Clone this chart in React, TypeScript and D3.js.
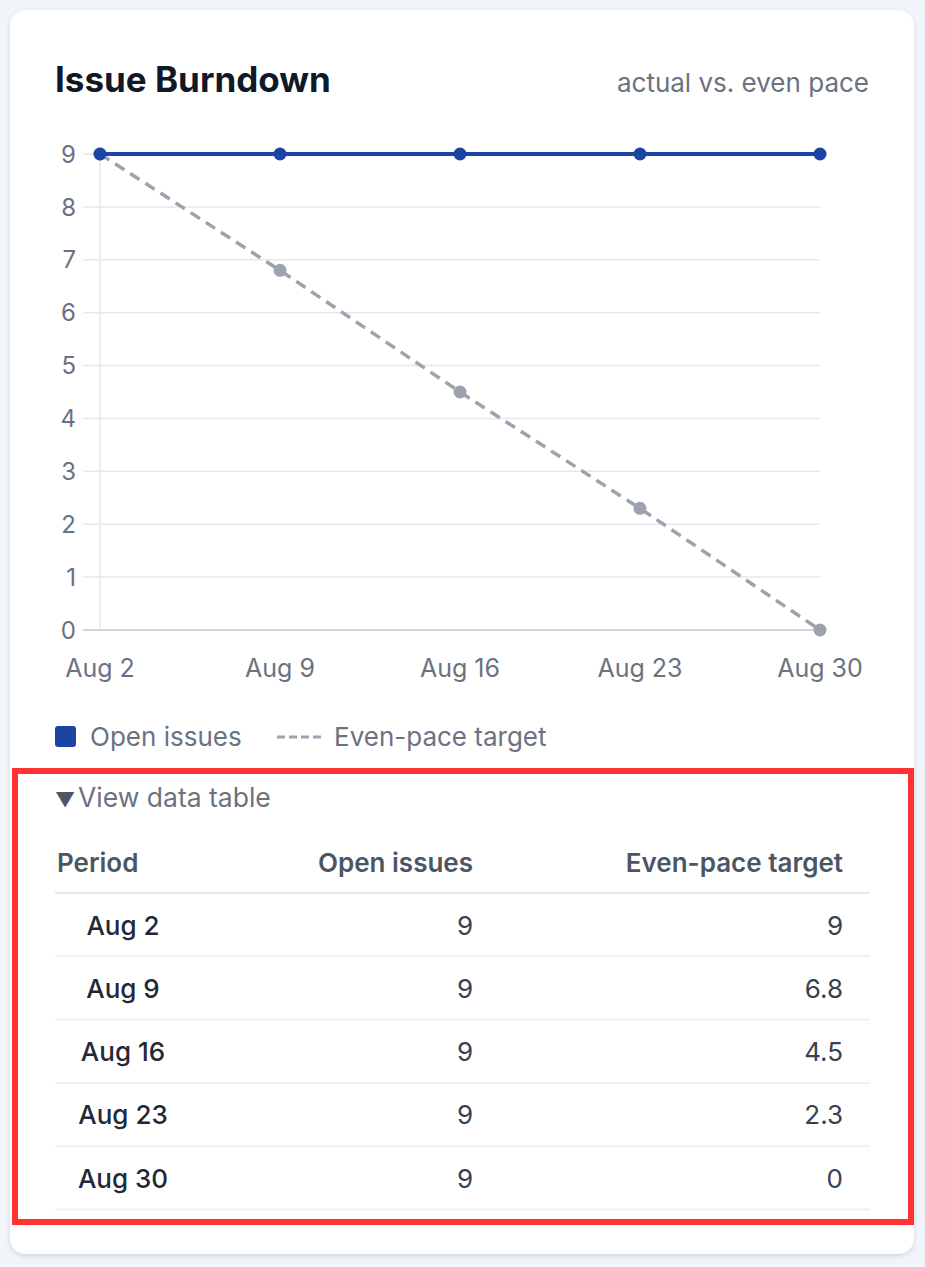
import React from "react";
import * as d3 from "d3";

const periods = ["Aug 2", "Aug 9", "Aug 16", "Aug 23", "Aug 30"];
const openIssues = [9, 9, 9, 9, 9];
const evenPace = [9, 6.8, 4.5, 2.3, 0];
const yTicks = [0, 1, 2, 3, 4, 5, 6, 7, 8, 9];

const W = 925;
const H = 1267;
const FONT = "Inter, 'Noto Sans', sans-serif";
const BLUE = "#1b45a3";
const GREY = "#9ca3af";

export default function App() {
  const x = d3.scalePoint<string>().domain(periods).range([100, 820]);
  const y = d3.scaleLinear().domain([0, 9]).range([630, 154]);
  const lineGen = d3
    .line<number>()
    .x((_, i) => x(periods[i]) as number)
    .y((d) => y(d));
  const tableTop = 893;
  const rowH = 63.3;

  return (
    <div style={{ position: "absolute", left: 0, top: 0, width: W, height: H, background: "#f1f4f8" }}>
      <svg width={W} height={H} style={{ display: "block", fontFamily: FONT }}>
        <defs>
          <filter id="sh" x="-5%" y="-5%" width="110%" height="110%">
            <feDropShadow dx="0" dy="2" stdDeviation="2.5" floodColor="#000" floodOpacity="0.12" />
          </filter>
        </defs>
        <rect x={10} y={10} width={904} height={1244} rx={16} fill="#fff" filter="url(#sh)" />

        <text x={55} y={92} fontSize={35} fontWeight={700} fill="#111827">Issue Burndown</text>
        <text x={869} y={92} fontSize={26} fill="#6b7280" textAnchor="end">actual vs. even pace</text>

        {/* grid */}
        {yTicks.map((t) => (
          <g key={t}>
            <line x1={83} x2={820} y1={y(t)} y2={y(t)} stroke={t === 0 ? "#d1d5db" : "#e5e7eb"} strokeWidth={t === 0 ? 2 : 1.5} />
            <text x={76} y={y(t)} dy="0.36em" fontSize={24} fill="#6b7280" textAnchor="end">{t}</text>
          </g>
        ))}
        <line x1={100} x2={100} y1={154} y2={630} stroke="#e5e7eb" strokeWidth={1.5} />
        {periods.map((p) => (
          <text key={p} x={x(p)} y={677} fontSize={25} fill="#6b7280" textAnchor="middle">{p}</text>
        ))}

        {/* even pace */}
        <path d={lineGen(evenPace) || ""} fill="none" stroke={GREY} strokeWidth={3.5} strokeDasharray="11 7" />
        {evenPace.map((v, i) => (
          <circle key={"e" + i} cx={x(periods[i])} cy={y(v)} r={6.5} fill={GREY} />
        ))}
        {/* open issues */}
        <path d={lineGen(openIssues) || ""} fill="none" stroke={BLUE} strokeWidth={4} />
        {openIssues.map((v, i) => (
          <circle key={"o" + i} cx={x(periods[i])} cy={y(v)} r={6.5} fill={BLUE} />
        ))}

        {/* legend */}
        <rect x={55} y={726} width={21} height={21} rx={3} fill={BLUE} />
        <text x={90} y={746} fontSize={26} fill="#6b7280">Open issues</text>
        <line x1={277} x2={321} y1={737} y2={737} stroke={GREY} strokeWidth={3} strokeDasharray="8 4" />
        <text x={334} y={746} fontSize={26} fill="#6b7280">Even-pace target</text>

        {/* table */}
        <text x={55} y={807} fontSize={20} fill="#4b5563">▼</text>
        <text x={78} y={807} fontSize={26.5} fill="#6b7280">View data table</text>
        <text x={57} y={872} fontSize={26} fontWeight={600} fill="#4b5563">Period</text>
        <text x={473} y={872} fontSize={26} fontWeight={600} fill="#4b5563" textAnchor="end">Open issues</text>
        <text x={843} y={872} fontSize={26} fontWeight={600} fill="#4b5563" textAnchor="end">Even-pace target</text>
        <line x1={55} x2={870} y1={tableTop} y2={tableTop} stroke="#e5e7eb" strokeWidth={2} />
        {periods.map((p, i) => {
          const cy = tableTop + rowH * i + rowH / 2 + 0.8;
          const by = tableTop + rowH * (i + 1);
          return (
            <g key={"r" + p}>
              <text x={123} y={cy} dy="0.35em" fontSize={26} fontWeight={500} fill="#1f2937" textAnchor="middle">{p}</text>
              <text x={473} y={cy} dy="0.35em" fontSize={26} fill="#374151" textAnchor="end">{openIssues[i]}</text>
              <text x={843} y={cy} dy="0.35em" fontSize={26} fill="#374151" textAnchor="end">{evenPace[i]}</text>
              <line x1={55} x2={870} y1={by} y2={by} stroke="#f0f1f3" strokeWidth={2} />
            </g>
          );
        })}

        {/* highlight box */}
        <rect x={15} y={771} width={896} height={451} fill="none" stroke="#ff3333" strokeWidth={6} />
      </svg>
    </div>
  );
}
